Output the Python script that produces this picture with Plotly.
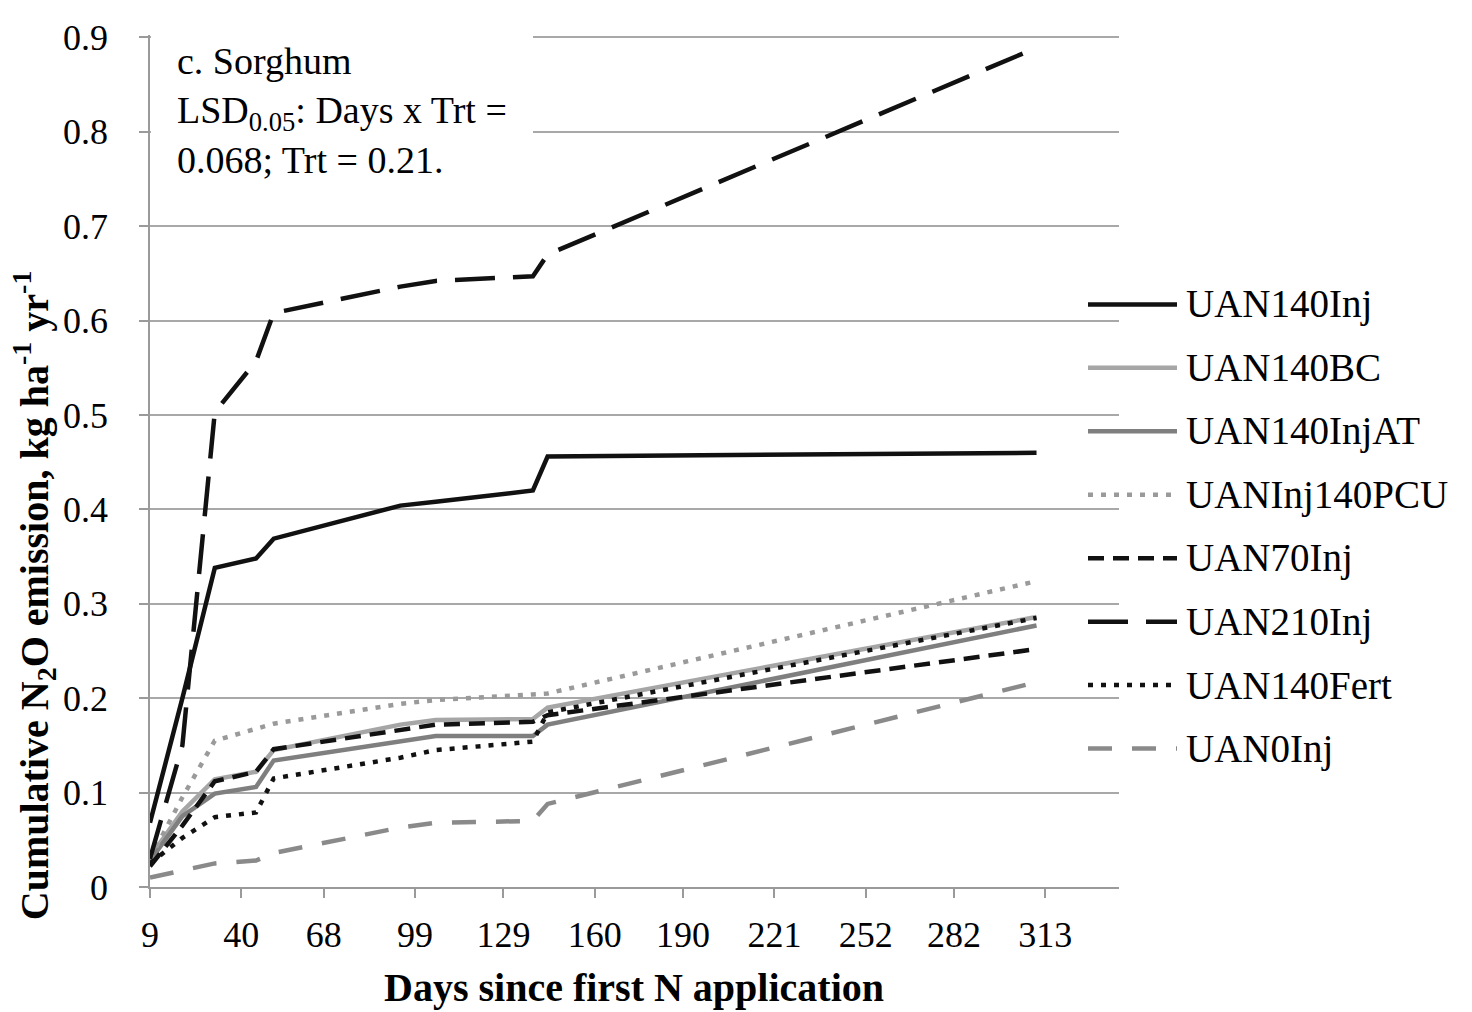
import plotly.graph_objects as go

# ---------------- data ----------------
days = [9, 20, 31, 45, 51, 94, 106, 139, 144, 310]

uan140inj    = [0.068, 0.200, 0.338, 0.348, 0.369, 0.404, 0.408, 0.420, 0.456, 0.460]
uan140bc     = [0.032, 0.080, 0.114, 0.122, 0.145, 0.172, 0.177, 0.178, 0.190, 0.286]
uan140injat  = [0.028, 0.075, 0.099, 0.106, 0.134, 0.155, 0.160, 0.160, 0.172, 0.277]
uaninj140pcu = [0.030, 0.095, 0.155, 0.167, 0.173, 0.194, 0.198, 0.204, 0.205, 0.324]
uan70inj     = [0.022, 0.065, 0.112, 0.122, 0.146, 0.167, 0.172, 0.175, 0.182, 0.252]
uan210inj    = [0.030, 0.150, 0.503, 0.557, 0.608, 0.636, 0.642, 0.647, 0.670, 0.889]
uan140fert   = [0.025, 0.052, 0.074, 0.079, 0.115, 0.137, 0.145, 0.154, 0.185, 0.285]
uan0inj      = [0.010, 0.018, 0.025, 0.028, 0.036, 0.063, 0.068, 0.070, 0.088, 0.217]

names = ["UAN140Inj", "UAN140BC", "UAN140InjAT", "UANInj140PCU",
         "UAN70Inj", "UAN210Inj", "UAN140Fert", "UAN0Inj"]
series = [uan140inj, uan140bc, uan140injat, uaninj140pcu,
          uan70inj, uan210inj, uan140fert, uan0inj]

x_ticks = [9, 40, 68, 99, 129, 160, 190, 221, 252, 282, 313]
y_ticks = [0, 0.1, 0.2, 0.3, 0.4, 0.5, 0.6, 0.7, 0.8, 0.9]

# ---------------- styles ----------------
colors = ["#111111", "#a6a6a6", "#7f7f7f", "#9a9a9a",
          "#111111", "#111111", "#111111", "#8a8a8a"]
dashes = ["solid", "solid", "solid", "5px,8px",
          "16px,9px", "40px,18px", "5px,8px", "24px,20px"]
widths = [4.5, 4.5, 4.5, 4.5, 4.5, 4.5, 4.5, 4.5]

SERIF = "Liberation Serif"
AX = "#9a9a9a"
GRID = "#a8a8a8"

# the page body has an 8px margin, so the figure is laid out 8px in
OFF = 8
W, H = 1472 - OFF, 1012 - OFF
Y_TOP_VAL = 0.9025                 # a hair above 0.9 so its gridline is kept
SCR_LEFT, SCR_RIGHT = 150, 1119    # plot area in screen px
SCR_Y0, SCR_Y09 = 887, 28          # screen px of y=0 and y=0.9
PX_PER_UNIT = (SCR_Y0 - SCR_Y09) / 0.9
MB = H - (SCR_Y0 - OFF)
MT = (SCR_Y0 - OFF) - PX_PER_UNIT * Y_TOP_VAL
ML, MR = SCR_LEFT - OFF, 10
PW = W - ML - MR
PH = H - MT - MB


def px_x(sx):
    return (sx - OFF - ML) / PW


def px_y(sy):
    return (SCR_Y0 - sy) / PH


fig = go.Figure()

for name, ys, c, d, w in zip(names, series, colors, dashes, widths):
    fig.add_trace(go.Scatter(
        x=days, y=ys, mode="lines", name=name,
        line=dict(color=c, dash=d, width=w),
        showlegend=False, xaxis="x", yaxis="y",
    ))

# custom legend on an auxiliary axis pair (long line samples like the reference)
LEG_FIRST, LEG_STEP = 298, (747 - 298) / 7
legend_top, legend_bottom = LEG_FIRST - LEG_STEP / 2, LEG_FIRST + 7.5 * LEG_STEP
rows = list(range(len(names)))
for k, c, d, w in zip(rows, colors, dashes, widths):
    fig.add_trace(go.Scatter(
        x=[0, 1], y=[k, k], mode="lines",
        line=dict(color=c, dash=d, width=w),
        showlegend=False, xaxis="x2", yaxis="y2", hoverinfo="skip",
    ))

legend_labels = [
    dict(text=name, xref="paper", yref="paper",
         x=px_x(1184), y=px_y(LEG_FIRST + k * LEG_STEP),
         xanchor="left", yanchor="middle", showarrow=False,
         font=dict(family=SERIF, size=39, color="black"))
    for k, name in zip(rows, names)
]

fig.update_layout(
    width=W, height=H,
    margin=dict(l=ML, r=MR, t=MT, b=MB, pad=0),
    paper_bgcolor="white", plot_bgcolor="rgba(0,0,0,0)",
    font=dict(family=SERIF, size=36, color="black"),
    xaxis=dict(
        domain=[0, (SCR_RIGHT - SCR_LEFT) / PW], range=[9, 338],
        tickmode="array", tickvals=x_ticks, ticktext=[str(t) for t in x_ticks],
        showgrid=False, zeroline=False,
        showline=True, linecolor=AX, linewidth=1.5,
        ticks="outside", ticklen=9, tickwidth=1.5, tickcolor=AX,
        tickfont=dict(family=SERIF, size=36, color="black"),
        ticklabelstandoff=6,
        anchor="y",
    ),
    yaxis=dict(
        domain=[0, 1], range=[0, Y_TOP_VAL],
        tickmode="array", tickvals=y_ticks, ticktext=[f"{t:g}" for t in y_ticks],
        showgrid=True, gridcolor=GRID, gridwidth=1.5, zeroline=False,
        showline=True, linecolor=AX, linewidth=1.5,
        ticks="outside", ticklen=9, tickwidth=1.5, tickcolor=AX,
        tickfont=dict(family=SERIF, size=36, color="black"),
        ticklabelstandoff=24,
        anchor="x",
    ),
    xaxis2=dict(domain=[px_x(1088), px_x(1177)], range=[0, 1],
                visible=False, anchor="y2"),
    yaxis2=dict(domain=[px_y(legend_bottom), px_y(legend_top)], range=[7.5, -0.5],
                visible=False, anchor="x2"),
    annotations=[
        dict(
            text="c. Sorghum<br>LSD<sub>0.05</sub>: Days x Trt =<br>0.068; Trt = 0.21.",
            xref="paper", yref="paper", x=px_x(151), y=px_y(4),
            xanchor="left", yanchor="top", align="left",
            showarrow=False, bgcolor="white", borderpad=26, borderwidth=0,
            font=dict(family=SERIF, size=38, color="black"),
        ),
        dict(
            text="<b>Days since first N application</b>",
            xref="paper", yref="paper", x=px_x(634), y=px_y(989),
            xanchor="center", yanchor="middle", showarrow=False,
            font=dict(family=SERIF, size=40, color="black"),
        ),
        dict(
            text="<b>Cumulative N<sub>2</sub>O emission, kg ha<sup>-1</sup> yr<sup>-1</sup></b>",
            xref="paper", yref="paper", x=px_x(34), y=px_y(592),
            xanchor="center", yanchor="middle", textangle=-90, showarrow=False,
            font=dict(family=SERIF, size=40, color="black"),
        ),
    ] + legend_labels,
)

fig.write_html("out.html")
